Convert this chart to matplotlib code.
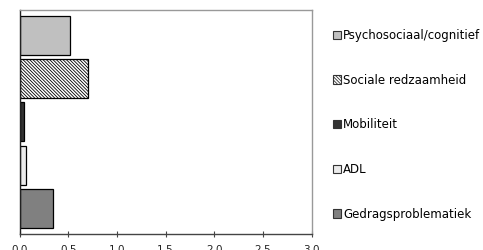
import matplotlib
matplotlib.use("Agg")
import matplotlib.pyplot as plt
from matplotlib.patches import Patch

categories = ["Gedragsproblematiek", "ADL", "Mobiliteit", "Sociale redzaamheid", "Psychosociaal/cognitief"]
values = [0.34, 0.065, 0.05, 0.70, 0.52]
colors = ["#808080", "#EBEBEB", "#333333", "#FFFFFF", "#C0C0C0"]
hatches = [None, None, None, "\\" * 10, None]
xticks = [0.0, 0.5, 1.0, 1.5, 2.0, 2.5, 3.0]
xticklabels = ["0.0", "0.5", "1.0", "1.5", "2.0", "2.5", "3.0"]

plt.rcParams['hatch.color'] = '#a0a0a0'
plt.rcParams['hatch.linewidth'] = 0.6

fig = plt.figure(figsize=(4.83, 2.5), dpi=100)
ax = fig.add_axes([19.5/483, 16.5/250, 292/483, 223.5/250])

ypos = list(range(len(categories)))
bars = ax.barh(ypos, values, height=0.9, color=colors, edgecolor="black", linewidth=0.9)
for b, h in zip(bars, hatches):
    if h:
        b.set_hatch(h)

ax.set_xlim(0, 3.0)
ax.set_ylim(-0.58, 4.58)
ax.set_xticks(xticks)
ax.set_xticklabels(xticklabels, fontsize=7.5, color="#222222")
ax.set_yticks([])
ax.tick_params(axis='x', direction='inout', length=4, width=0.8, color="#444444", pad=6)
for s in ['top', 'right']:
    ax.spines[s].set_color("#999999")
    ax.spines[s].set_linewidth(1.0)
ax.spines['bottom'].set_color("#444444")
ax.spines['left'].set_color("#222222")
ax.spines['bottom'].set_linewidth(1.0)
ax.spines['left'].set_linewidth(1.0)

handles = []
labels = []
for i in reversed(range(len(categories))):
    handles.append(Patch(facecolor=colors[i], edgecolor="#333333", hatch=hatches[i], linewidth=0.8))
    labels.append(categories[i])
fig.legend(handles, labels, loc='upper left', bbox_to_anchor=(332.5/483, 1 - 29/250),
           frameon=False, fontsize=8.5, handlelength=0.72, handleheight=0.72,
           handletextpad=0.2, labelspacing=2.68, borderaxespad=0, borderpad=0)

fig.savefig("out.png", dpi=100)
